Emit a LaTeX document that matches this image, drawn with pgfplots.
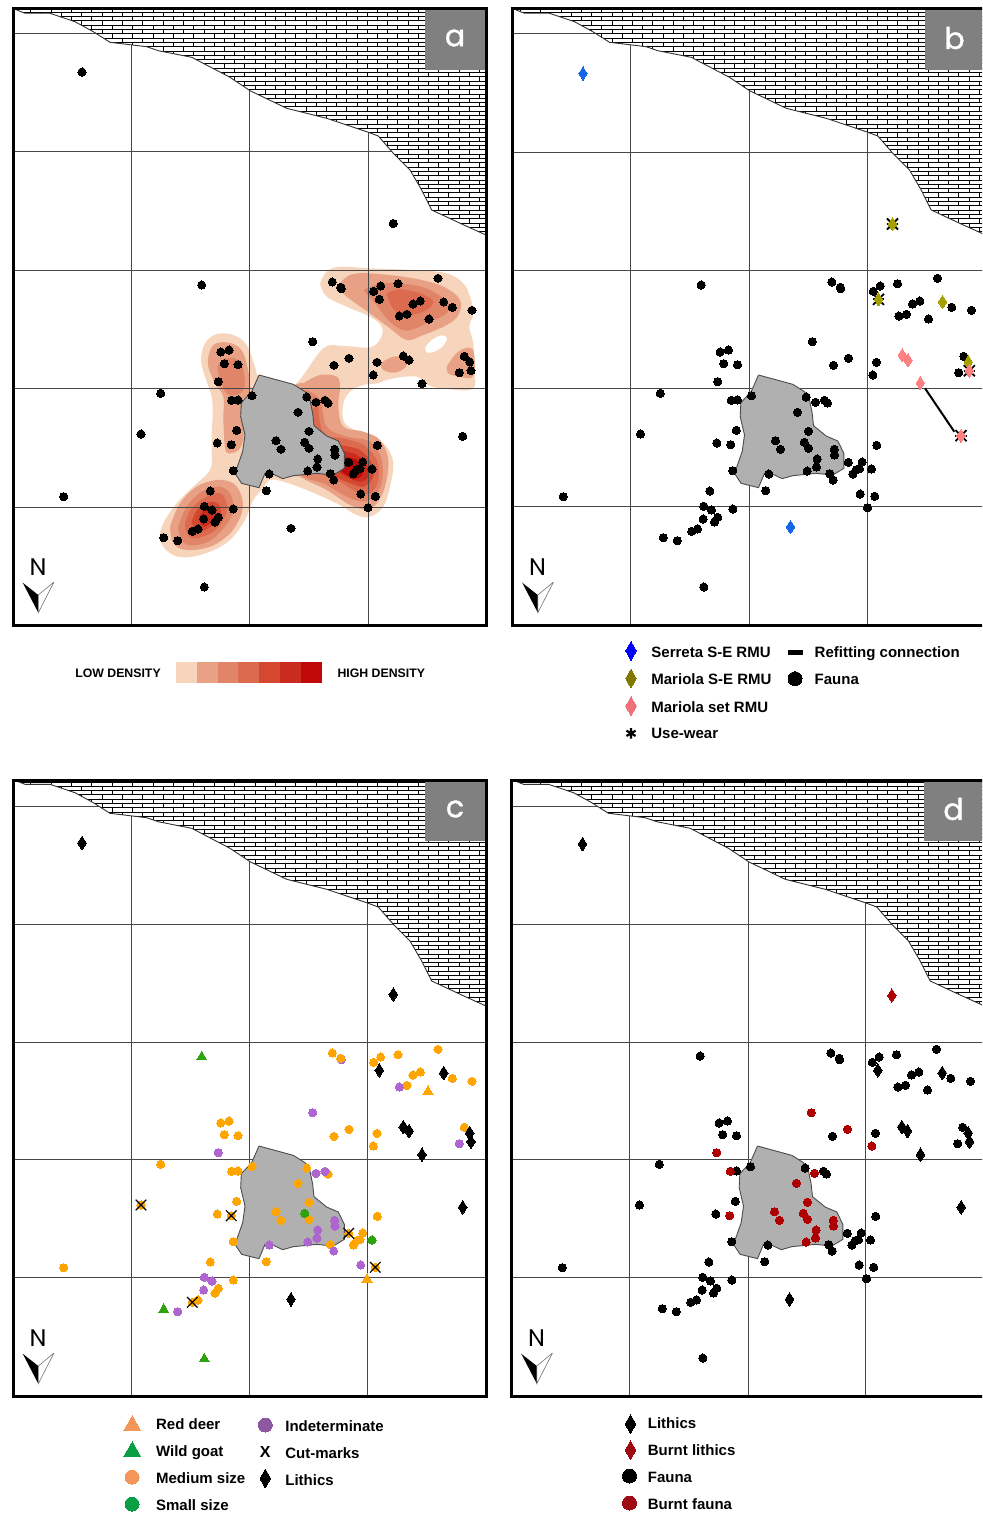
\documentclass[border=0pt]{standalone}
\usepackage{pgfplots}
\usepackage{pgfplotstable}
\pgfplotsset{compat=1.18}
\usepackage{fontspec}
\usetikzlibrary{patterns}
\setmainfont{Liberation Sans}
\newfontfamily\popf{Poppins}
\newfontfamily\popb{Poppins}[FakeBold=1.2]
\definecolor{kA}{HTML}{F6D5BC}
\definecolor{kB}{HTML}{E8A184}
\definecolor{kC}{HTML}{E08568}
\definecolor{kD}{HTML}{DC6A4E}
\definecolor{kE}{HTML}{D4482F}
\definecolor{kF}{HTML}{C92B1F}
\definecolor{kG}{HTML}{C10808}
\definecolor{ptorange}{HTML}{FFA500}
\definecolor{ptpurple}{HTML}{AE65CF}
\definecolor{ptgreen}{HTML}{2FA30E}
\definecolor{ptblue}{HTML}{1565E5}
\definecolor{ptolive}{HTML}{A5A000}
\definecolor{ptpink}{HTML}{FF8080}
\definecolor{burnt}{HTML}{AE0000}
\definecolor{lgolive}{HTML}{807800}
\definecolor{lgpink}{HTML}{F0707A}
\definecolor{lgorange}{HTML}{F4965A}
\definecolor{lggreen}{HTML}{0A9E45}
\definecolor{lgpurple}{HTML}{8E58A0}
\definecolor{lgburnt}{HTML}{9E0A14}
\pgfdeclarepatternformonly{mybrick}{\pgfqpoint{-1pt}{-1pt}}{\pgfqpoint{11pt}{5.5pt}}{\pgfqpoint{10.2pt}{4.3pt}}{%
  \pgfsetlinewidth{0.4pt}%
  \pgfpathmoveto{\pgfqpoint{0pt}{0pt}}\pgfpathlineto{\pgfqpoint{10.2pt}{0pt}}%
  \pgfpathmoveto{\pgfqpoint{0pt}{2.15pt}}\pgfpathlineto{\pgfqpoint{10.2pt}{2.15pt}}%
  \pgfpathmoveto{\pgfqpoint{0pt}{0pt}}\pgfpathlineto{\pgfqpoint{0pt}{2.15pt}}%
  \pgfpathmoveto{\pgfqpoint{5.1pt}{2.15pt}}\pgfpathlineto{\pgfqpoint{5.1pt}{4.3pt}}%
  \pgfusepath{stroke}}
% non-lithic, unburnt
\pgfplotstableread{
x y
332.3 282
340.7 287.3
341.3 288.7
373.7 291.3
380.7 286
398 283.7
438 278.3
413 304
420.3 301
452.3 307.3
472 310.3
399.3 316
407 314.3
429 319
334 365.3
377 362.3
464.3 356.3
459.3 372.7
220.7 352
229 350
224.3 363.7
238 364.7
160.7 393.3
238 400
252 395.7
306.7 397
325 400.3
328 403
141 434
236.7 430.3
217.3 443
377.3 445.3
233.3 470.7
269.3 474
330.3 473.7
333.7 480
348.7 462.3
362.7 462
360 468.7
356.7 469.7
353.3 474
372 469
360.7 494
375.3 496.3
368 507.7
266.3 490.7
210.3 491
204.3 506.3
212 510
233.3 509
203.7 519
218.3 517.3
215 522
198 529
192.3 531.3
163.7 537.7
177.7 540.7
63.7 496.7
204.3 587
201.7 285
}\tabF
% burnt fauna
\pgfplotstableread{
x y
312.7 341.7
349 358.3
373.3 375
218.3 381.7
231.7 400.3
316 402.3
298 412.3
231.3 444.7
309 431.3
276 440.7
281 449.3
304.7 442.3
309 448.3
334.7 449.3
335 455
317.7 459
317 467
307.7 471
}\tabB
% lithics
\pgfplotstableread{
x y
379.3 299.3
443.7 302
403.3 356
409 360
422 383.7
469.7 362
471 370.7
462.7 436.3
291 528.3
82 72
393.3 223.5
}\tabL
% panel c: medium size
\pgfplotstableread{
x y
332.3 282
340.7 287.3
373.7 291.3
380.7 286
398 283.7
438 278.3
413 304
420.3 301
452.3 307.3
472 310.3
407 314.3
349 358.3
334 365.3
377 362.3
373.3 375
464.3 356.3
220.7 352
229 350
224.3 363.7
238 364.7
160.7 393.3
231.7 400.3
238 400
252 395.7
306.7 397
328 403
298 412.3
236.7 430.3
217.3 443
309 431.3
276 440.7
281 449.3
309 448.3
377.3 445.3
233.3 470.7
330.3 473.7
362.7 462
360 468.7
356.7 469.7
353.3 474
266.3 490.7
210.3 491
233.3 509
218.3 517.3
215 522
198 529
63.7 496.7
}\tabM
% panel c: indeterminate
\pgfplotstableread{
x y
399.3 316
312.7 341.7
218.3 381.7
316 402.3
325 400.3
459.3 372.7
334.7 449.3
335 455
317.7 459
317 467
307.7 471
269.3 474
333.7 480
360.7 494
204.3 506.3
212 510
203.7 519
177.7 540.7
}\tabP
% panel c: cut-marks
\pgfplotstableread{
x y
141 434
231.3 444.7
348.7 462.3
375.3 496.3
192.3 531.3
}\tabX
\pgfplotsset{
  panel/.style={anchor=north west, scale only axis, width=236.5pt, height=308pt,
    xmin=13, xmax=486, ymin=9, ymax=625, y dir=reverse, ticks=none,
    axis line style={line width=1.5pt, black}, clip mode=individual, axis on top},
  gl/.style={draw=black!72, line width=0.5pt, no markers, forget plot},
  dots/.style={only marks, mark=*, mark size=2.05pt, mark options={fill=#1, draw=#1, line width=0pt}},
  dia/.style={only marks, mark=diamond*, mark size=3.3pt, mark options={fill=#1, draw=#1, line width=0pt, xscale=.85}},
  tri/.style={only marks, mark=triangle*, mark size=2.9pt, mark options={fill=#1, draw=#1, line width=0pt}},
  lgdia/.style={only marks, mark=diamond*, mark size=4.65pt, mark options={fill=#1, draw=#1, line width=0pt, xscale=.76}},
  lgdot/.style={only marks, mark=*, mark size=3.5pt, mark options={fill=#1, draw=#1, line width=0pt}},
  lgtri/.style={only marks, mark=triangle*, mark size=5pt, mark options={fill=#1, draw=#1, line width=0pt}},
}
\tikzset{lgt/.style={anchor=base west, yshift=-2.7pt, font=\fontsize{7.5}{9}\selectfont\bfseries, inner sep=0pt}}
% #1-#5 horizontal grid lines, #6 last vertical one
\newcommand\basemap[6]{%
  \addplot[gl] coordinates {(131,9)(131,625)};
  \addplot[gl] coordinates {(249.5,9)(249.5,625)};
  \addplot[gl] coordinates {(#6,9)(#6,625)};
  \addplot[gl] coordinates {(13,#1)(486,#1)};
  \addplot[gl] coordinates {(13,#2)(486,#2)};
  \addplot[gl] coordinates {(13,#3)(486,#3)};
  \addplot[gl] coordinates {(13,#4)(486,#4)};
  \addplot[gl] coordinates {(13,#5)(486,#5)};
  \addplot[fill=white, draw=none, no markers] coordinates {(16.7,9)(16.7,10)(25,13.3)(50,13.3)(75,21.7)(93.3,31.7)(110,42.3)(146.7,46.7)(158.3,50.7)(191.7,57.3)(230,77.3)(250,90.7)(286.7,108.3)(326.7,118.3)(366.7,131.7)(378.3,136)(393.3,153.3)(410,170)(421.7,190)(431.7,210)(461.7,224)(486,235)(486,9)};
  \addplot[pattern=mybrick, pattern color=black, draw=none, no markers] coordinates {(16.7,9)(16.7,10)(25,13.3)(50,13.3)(75,21.7)(93.3,31.7)(110,42.3)(146.7,46.7)(158.3,50.7)(191.7,57.3)(230,77.3)(250,90.7)(286.7,108.3)(326.7,118.3)(366.7,131.7)(378.3,136)(393.3,153.3)(410,170)(421.7,190)(431.7,210)(461.7,224)(486,235)(486,9)};
  \addplot[draw=black!80, line width=0.45pt, no markers] coordinates {(16.7,10)(25,13.3)(50,13.3)(75,21.7)(93.3,31.7)(110,42.3)(146.7,46.7)(158.3,50.7)(191.7,57.3)(230,77.3)(250,90.7)(286.7,108.3)(326.7,118.3)(366.7,131.7)(378.3,136)(393.3,153.3)(410,170)(421.7,190)(431.7,210)(461.7,224)(486,235)};
  \addplot[fill=black!31, draw=black!70, line width=0.45pt, no markers] table[x expr=130+\thisrow{x}/3, y expr=260+\thisrow{y}/3, row sep=\\] {x y\\387 345\\490 373\\525 395\\540 420\\548 460\\552 497\\590 528\\625 543\\643 580\\643 625\\610 645\\560 640\\490 647\\458 656\\418 637\\405 640\\387 683\\335 670\\315 640\\338 575\\345 525\\332 470\\334 428\\365 395\\387 345\\};
  \addplot[fill=black!50, draw=none, no markers] coordinates {(425,9)(485,9)(485,70)(425,70)};
  \addplot[fill=black, draw=none, no markers] coordinates {(22.7,582.7)(38.3,595)(38.3,612.7)};
  \addplot[fill=white, draw=black!55, line width=0.3pt, no markers] coordinates {(54,582)(38.3,595)(38.3,612.7)(54,582)};
  \node[font=\popf\fontsize{12}{12}\selectfont, inner sep=0pt] at (axis cs:38,567) {N};
}
\newcommand\kde[2]{\addplot[smooth, tension=0.6, fill=#1, draw=none, no markers] table[x expr=130+\thisrow{x}/3, y expr=260+\thisrow{y}/3, row sep=\\] {x y\\#2\\};}
\newcommand\plabel[1]{\node[font=\popb\fontsize{15}{15}\selectfont, text=white, inner sep=0pt] at (axis cs:455,38) {#1};}
\begin{document}
\begin{tikzpicture}
\useasboundingbox (0,0) rectangle (491pt,-756.5pt);
\clip (0,0) rectangle (491pt,-756.5pt);
% ---------- a
\begin{axis}[panel, at={(6.5pt,-4.5pt)}]
\kde{kA}{570 70\\590 35\\630 20\\720 25\\850 30\\950 40\\1000 70\\1020 110\\1030 160\\1018 200\\1030 250\\1032 320\\1030 385\\960 388\\900 378\\860 350\\790 355\\740 370\\700 375\\660 395\\640 430\\640 480\\665 505\\730 530\\770 560\\790 610\\780 680\\760 740\\720 770\\680 765\\620 730\\530 690\\460 665\\420 660\\395 690\\370 720\\345 780\\300 840\\240 875\\170 892\\120 880\\90 840\\100 790\\140 730\\190 680\\240 630\\245 580\\245 520\\248 460\\245 410\\225 350\\213 300\\225 250\\260 222\\310 225\\350 255\\375 320\\385 350\\440 400\\500 370\\580 265\\640 258\\720 262\\752 235\\755 200\\720 170\\650 140\\590 110\\570 70}
\kde{white}{886 262\\905 240\\935 226\\951 235\\935 262\\905 278\\888 275\\886 262}
\kde{kB}{630 70\\660 45\\720 40\\850 55\\940 80\\990 120\\985 165\\950 195\\880 225\\830 240\\780 205\\720 160\\670 125\\640 100\\630 70}
\kde{kB}{750 310\\790 290\\825 295\\828 320\\795 338\\760 330\\750 310}
\kde{kB}{950 320\\985 275\\1028 268\\1030 348\\985 350\\955 340\\950 320}
\kde{kB}{235 290\\250 255\\290 247\\330 265\\350 310\\360 380\\350 410\\335 430\\340 510\\340 540\\325 570\\295 580\\285 560\\280 480\\280 410\\255 370\\235 320\\235 290}
\kde{kB}{520 370\\570 345\\620 350\\630 380\\625 440\\640 500\\700 515\\750 540\\775 600\\765 680\\740 730\\710 748\\660 735\\590 690\\510 650\\450 600\\480 400\\520 370}
\kde{kB}{120 800\\150 730\\200 680\\260 660\\310 670\\335 710\\335 760\\300 820\\240 860\\170 870\\130 850\\120 800}
\kde{kC}{700 90\\760 70\\850 75\\910 95\\955 130\\950 160\\900 185\\830 212\\780 185\\735 130\\700 90}
\kde{kC}{262 320\\285 295\\325 300\\342 340\\342 385\\320 405\\290 400\\270 360\\262 320}
\kde{kC}{530 390\\570 420\\590 500\\650 530\\720 545\\755 600\\755 670\\730 710\\700 725\\650 710\\580 670\\520 650\\480 600\\490 450\\530 390}
\kde{kC}{145 800\\170 740\\215 695\\265 680\\300 700\\310 750\\285 800\\235 845\\175 855\\150 830\\145 800}
\kde{kD}{770 100\\810 88\\870 100\\910 125\\880 155\\820 165\\785 140\\770 100}
\kde{kD}{565 440\\580 520\\640 535\\700 555\\740 600\\745 660\\720 700\\680 695\\620 660\\570 640\\520 600\\530 470\\565 440}
\kde{kD}{165 790\\185 745\\230 710\\270 700\\290 730\\285 770\\250 815\\195 835\\170 820\\165 790}
\kde{kE}{630 555\\690 570\\725 610\\730 650\\700 680\\650 665\\600 640\\590 600\\630 555}
\kde{kE}{185 785\\205 745\\245 725\\270 740\\268 775\\235 805\\200 815\\185 785}
\kde{kF}{630 570\\680 585\\710 615\\715 650\\690 665\\650 650\\615 625\\610 590\\630 570}
\kde{kF}{205 775\\225 745\\250 750\\250 780\\220 800\\205 775}
\kde{kG}{640 590\\680 600\\700 630\\685 655\\650 645\\625 620\\640 590}
\basemap{33.3}{151.7}{270}{388.3}{507}{368.3}
\addplot[dots=black] table {\tabF};
\addplot[dots=black] table {\tabB};
\addplot[dots=black] table {\tabL};
\plabel{a}
\end{axis}
% ---------- b
\begin{axis}[panel, at={(256.25pt,-4.5pt)}]
\basemap{33.8}{152.2}{270}{388.3}{506}{367.5}
\addplot[dots=black] table {\tabF};
\addplot[dots=black] table {\tabB};
\addplot[draw=black, line width=1pt, no markers] coordinates {(425.5,388.3)(454.8,431.7)};
\addplot[only marks, mark=+, mark size=2.85pt, mark options={draw=black, line width=0.9pt}] coordinates {(393,224)(379,299.3)(461.5,435.7)(469.8,370.7)};
\addplot[only marks, mark=x, mark size=3.9pt, mark options={draw=black, line width=0.9pt}] coordinates {(393,224)(379,299.3)(461.5,435.7)(469.8,370.7)};
\addplot[dia=ptblue] coordinates {(83.5,73.5)(291,527)};
\addplot[dia=ptolive] coordinates {(393,224)(379,299.3)(443,302)(468.8,362)};
\addplot[dia=ptpink] coordinates {(402.8,355.3)(408.5,360.3)(420.8,383)(461.5,435.7)(469.8,370.7)};
\plabel{b}
\end{axis}
% ---------- c
\begin{axis}[panel, at={(6.5pt,-390pt)}]
\basemap{35}{153}{271}{388.7}{506}{367.5}
\addplot[dots=ptpurple] coordinates {(341.3,288.7)};
\addplot[dots=ptorange] table {\tabM};
\addplot[dots=ptorange] table {\tabX};
\addplot[dots=ptpurple] table {\tabP};
\addplot[dots=ptgreen] coordinates {(304.7,442.3)(372,469)};
\addplot[tri=ptgreen] coordinates {(201.7,286)(163.7,538.5)(204.3,588)};
\addplot[tri=ptorange] coordinates {(428,320.5)(367,508.5)};
\addplot[only marks, mark=x, mark size=3.75pt, mark options={draw=black, line width=0.55pt}] table {\tabX};
\addplot[only marks, mark=diamond*, mark size=3.4pt, mark options={fill=black, draw=black, line width=0pt, xscale=.85}] table {\tabL};
\plabel{c}
\end{axis}
% ---------- d
\begin{axis}[panel, at={(255.75pt,-390pt)}]
\basemap{35}{153}{271}{388.7}{506}{367.3}
\addplot[dots=black] table {\tabF};
\addplot[dots=burnt] table {\tabB};
\addplot[only marks, mark=diamond*, mark size=3.4pt, mark options={fill=black, draw=black, line width=0pt, xscale=.85}] coordinates {(379.3,299.3)(443.7,302)(403.3,356)(409,360)(422,383.7)(469.7,362)(471,370.7)(462.7,436.3)(291,528.3)(84,73)};
\addplot[dia=burnt] coordinates {(393.3,224.5)};
\plabel{d}
\end{axis}
% ---------- legends, in image pixels
\begin{axis}[anchor=north west, at={(0pt,0pt)}, scale only axis, width=491pt, height=756.5pt,
  xmin=0, xmax=982, ymin=0, ymax=1513, y dir=reverse, hide axis, clip=false]
% density bar
\addplot[fill=kA, draw=none, no markers] coordinates {(176,662.3)(196.8,662.3)(196.8,682.7)(176,682.7)};
\addplot[fill=kB, draw=none, no markers] coordinates {(196.8,662.3)(217.6,662.3)(217.6,682.7)(196.8,682.7)};
\addplot[fill=kC, draw=none, no markers] coordinates {(217.6,662.3)(238.4,662.3)(238.4,682.7)(217.6,682.7)};
\addplot[fill=kD, draw=none, no markers] coordinates {(238.4,662.3)(259.2,662.3)(259.2,682.7)(238.4,682.7)};
\addplot[fill=kE, draw=none, no markers] coordinates {(259.2,662.3)(280,662.3)(280,682.7)(259.2,682.7)};
\addplot[fill=kF, draw=none, no markers] coordinates {(280,662.3)(300.8,662.3)(300.8,682.7)(280,682.7)};
\addplot[fill=kG, draw=none, no markers] coordinates {(300.8,662.3)(321.7,662.3)(321.7,682.7)(300.8,682.7)};
\node[font=\fontsize{6.15}{8}\selectfont\bfseries, inner sep=0pt] at (axis cs:118,673.3) {LOW DENSITY};
\node[font=\fontsize{6.15}{8}\selectfont\bfseries, inner sep=0pt] at (axis cs:381.3,673.3) {HIGH DENSITY};
% legend b
\addplot[lgdia=blue] coordinates {(631,650.7)};
\addplot[lgdia=lgolive] coordinates {(631,678.3)};
\addplot[lgdia=lgpink] coordinates {(631,706)};
\addplot[only marks, mark=asterisk, mark size=2.65pt, mark options={draw=black, line width=1.1pt}] coordinates {(631,733.3)};
\addplot[fill=black, draw=none, no markers] coordinates {(788.3,649.5)(803.3,649.5)(803.3,654.7)(788.3,654.7)};
\addplot[lgdot=black] coordinates {(795,678.7)};
\node[lgt] at (axis cs:651,652) {Serreta S-E RMU};
\node[lgt] at (axis cs:651,679.3) {Mariola S-E RMU};
\node[lgt] at (axis cs:651,706.7) {Mariola set RMU};
\node[lgt] at (axis cs:651,733.3) {Use-wear};
\node[lgt] at (axis cs:814.3,652) {Refitting connection};
\node[lgt] at (axis cs:814.3,679.3) {Fauna};
% legend c
\addplot[lgtri=lgorange] coordinates {(132.3,1425.7)};
\addplot[lgtri=lggreen] coordinates {(132.3,1451.7)};
\addplot[lgdot=lgorange] coordinates {(132,1477)};
\addplot[lgdot=lggreen] coordinates {(132,1504)};
\addplot[lgdot=lgpurple] coordinates {(265.3,1425)};
\addplot[lgdia=black] coordinates {(265.3,1478.3)};
\node[font=\fontsize{8}{9}\selectfont\bfseries, inner sep=0pt] at (axis cs:265.3,1452.3) {X};
\node[lgt] at (axis cs:155.7,1424) {Red deer};
\node[lgt] at (axis cs:155.7,1451) {Wild goat};
\node[lgt] at (axis cs:155.7,1478.3) {Medium size};
\node[lgt] at (axis cs:155.7,1505.3) {Small size};
\node[lgt] at (axis cs:285,1425.7) {Indeterminate};
\node[lgt] at (axis cs:285,1452.7) {Cut-marks};
\node[lgt] at (axis cs:285,1480) {Lithics};
% legend d
\addplot[lgdia=black] coordinates {(630.5,1424)};
\addplot[lgdia=lgburnt] coordinates {(630.5,1450)};
\addplot[lgdot=black] coordinates {(629.5,1476)};
\addplot[lgdot=lgburnt] coordinates {(629.5,1503)};
\node[lgt] at (axis cs:647.5,1423) {Lithics};
\node[lgt] at (axis cs:647.5,1450) {Burnt lithics};
\node[lgt] at (axis cs:647.5,1477) {Fauna};
\node[lgt] at (axis cs:647.5,1504) {Burnt fauna};
\end{axis}
\end{tikzpicture}
\end{document}
